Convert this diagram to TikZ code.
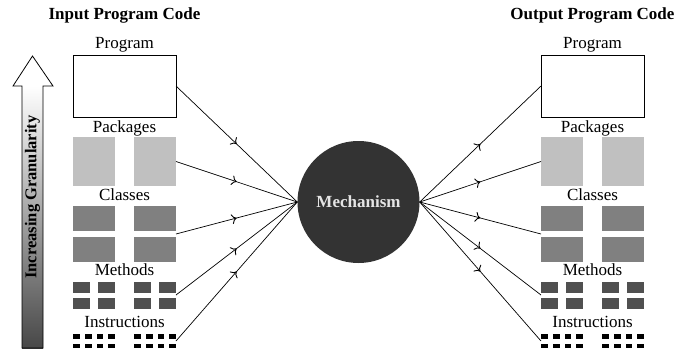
\documentclass[tikz,border=0pt]{standalone}
\usepackage{fontspec}
\setmainfont{Liberation Serif}
\usetikzlibrary{arrows.meta,decorations.markings}
\definecolor{pkg}{HTML}{C0C0C0}
\definecolor{cls}{HTML}{808080}
\definecolor{mth}{HTML}{505050}
\definecolor{ins}{HTML}{000000}
\definecolor{mechc}{HTML}{333333}
\tikzset{
  lbl/.style={anchor=base, inner sep=0pt, font=\rmfamily\fontsize{17}{20}\selectfont},
  ttl/.style={anchor=base, inner sep=0pt, font=\rmfamily\bfseries\fontsize{17}{20}\selectfont},
  blk/.style={anchor=north west, inner sep=0pt, outer sep=0pt},
  progbox/.style={blk, draw=black, line width=0.8pt, minimum width=103pt, minimum height=62pt},
  pkgbox/.style={blk, fill=pkg, minimum width=42pt, minimum height=49pt},
  clsbox/.style={blk, fill=cls, minimum width=42pt, minimum height=25pt},
  mthbox/.style={blk, fill=mth, minimum width=17pt, minimum height=11pt},
  insbox/.style={blk, fill=ins, minimum width=6.75pt, minimum height=4.7pt},
  flow/.style={line width=0.7pt, postaction={decorate},
    decoration={markings, mark=at position 0.5 with {\arrow[line width=0.9pt]{To[length=5pt,width=10pt]}}}},
}
\newcommand\codecolumn[1]{%
  \node[ttl] (title) at (124.5,19) {#1};
  \node[lbl] (lprog) at (124.5,48) {Program};
  \node[progbox] (prog) at (73,55) {};
  \node[lbl] (lpkg) at (124.5,132) {Packages};
  \node[pkgbox] (pkgA) at (73,137) {};
  \node[pkgbox] (pkgB) at (134,137) {};
  \node[lbl] (lcls) at (124.5,200.5) {Classes};
  \node[clsbox] (clsA) at (73,206) {};
  \node[clsbox] (clsB) at (134,206) {};
  \node[clsbox] (clsC) at (73,237) {};
  \node[clsbox] (clsD) at (134,237) {};
  \coordinate (clsL) at (73,234);
  \coordinate (clsR) at (176,234);
  \node[lbl] (lmth) at (124.5,275) {Methods};
  \foreach \mx [count=\i] in {73,98,134,159}{
    \node[mthbox] (mthA\i) at (\mx,281.5) {};
    \node[mthbox] (mthB\i) at (\mx,297.5) {};
  }
  \coordinate (mthL) at (73,295);
  \coordinate (mthR) at (176,295);
  \node[lbl] (lins) at (124.5,327.7) {Instructions};
  \foreach \ix [count=\i] in {73,84.75,96.5,108.25,134,145.75,157.5,169.25}{
    \node[insbox] (insA\i) at (\ix,334) {};
    \node[insbox] (insB\i) at (\ix,343.5) {};
  }
  \coordinate (insL) at (73,341);
  \coordinate (insR) at (176,341);
}
\begin{document}
\begin{tikzpicture}[x=1pt,y=-1pt]
\useasboundingbox (0,0) rectangle (699,354);
% granularity arrow
\shade[top color=white, bottom color=black!72] (22,86) rectangle (43,348);
\draw[line width=0.8pt, line join=miter] (22,348) -- (22,86) -- (13,86) -- (32.5,56) -- (53,86) -- (43,86) -- (43,348) -- cycle;
\node[rotate=90, inner sep=0pt, font=\rmfamily\bfseries\fontsize{16.5}{20}\selectfont] (gran) at (32.5,197) {Increasing Granularity};
% columns
\begin{scope}[name prefix=L-]
  \codecolumn{Input Program Code}
\end{scope}
\begin{scope}[xshift=468pt, name prefix=R-]
  \codecolumn{Output Program Code}
\end{scope}
% mechanism
\node[circle, fill=mechc, minimum size=122pt, inner sep=0pt, text=white!90!black,
  font=\rmfamily\bfseries\fontsize{17}{20}\selectfont] (mech) at (358.5,202) {Mechanism};
% flows in
\draw[flow] (L-prog.east) -- (mech.west);
\draw[flow] (L-pkgB.east) -- (mech.west);
\draw[flow] (L-clsR) -- (mech.west);
\draw[flow] (L-mthR) -- (mech.west);
\draw[flow] (L-insR) -- (mech.west);
% flows out
\draw[flow] (mech.east) -- (R-prog.west);
\draw[flow] (mech.east) -- (R-pkgA.west);
\draw[flow] (mech.east) -- (R-clsL);
\draw[flow] (mech.east) -- (R-mthL);
\draw[flow] (mech.east) -- (R-insL);
\end{tikzpicture}
\end{document}
